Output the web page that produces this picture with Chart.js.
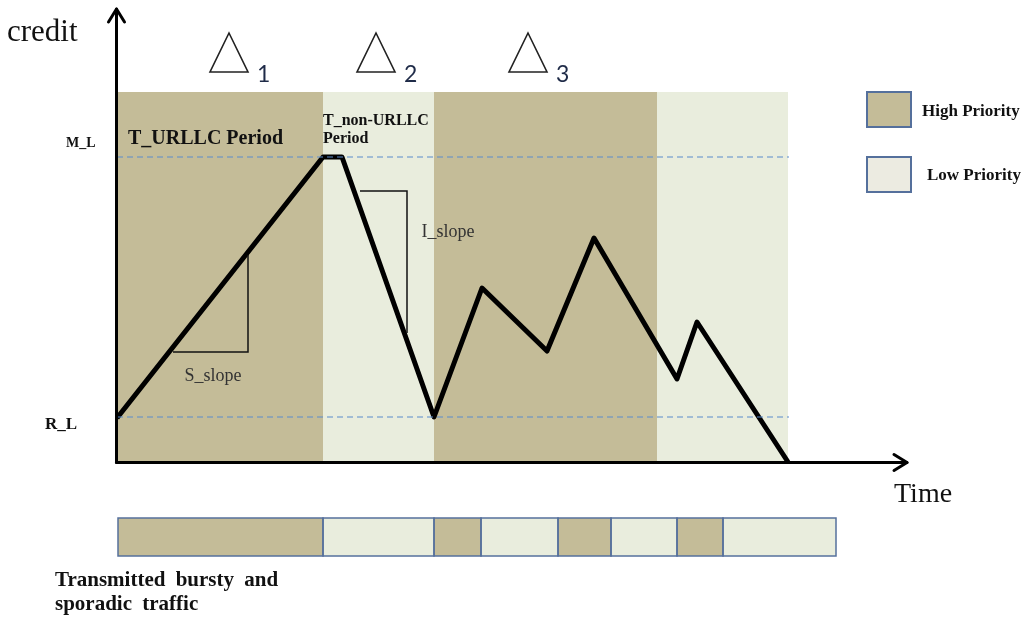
<!DOCTYPE html>
<html>
<head>
<meta charset="utf-8">
<script src="https://cdn.jsdelivr.net/npm/chart.js@4/dist/chart.umd.min.js"></script>
<style>
  html, body { margin: 0; padding: 0; background: #ffffff; }
  canvas { display: block; }
</style>
</head>
<body>
<canvas id="c" width="1028" height="621"></canvas>
<script>
// ---------------- DATA ----------------
const creditTime  = [0, 206, 225, 317, 365, 430, 477, 560, 580, 671];
const creditValue = [44, 305, 305, 45, 174, 111, 224, 83, 140, 0];
const M_L = 305;
const R_L = 45;
const refLineEnd = 672;
const bandEdges = [0, 206, 317, 540, 671];
const bandPriority = ['High', 'Low', 'High', 'Low'];
const bandTop = 370;
const trafficEdges = [1, 206, 317, 364, 441, 494, 560, 606, 719];
const trafficPriority = ['High', 'Low', 'High', 'Low', 'High', 'Low', 'High', 'Low'];
const sSlopeX = [56, 131, 131];
const sSlopeY = [110, 110, 207];
const iSlopeX = [243, 290, 290];
const iSlopeY = [271, 271, 129];
const deltaLabels = ['1', '2', '3'];
const deltaCenters = [229, 376, 528];
const legendLabels = ['High Priority', 'Low Priority'];

// ---------------- STYLE ----------------
const COLORS = { High: '#c4bc98', Low: '#e9eddd' };
const LEGEND_FILL = { High: '#c4bc98', Low: '#ecebe1' };
const BORDER_BLUE = '#55709c';
const DASH_BLUE = '#5a8ccc';

const pts = (xs, ys) => xs.map((x, i) => ({ x: x, y: ys[i] }));

const bgPlugin = {
  id: 'bg',
  beforeDatasetsDraw(chart) {
    const { ctx, scales: { x, y } } = chart;
    ctx.save();
    for (let i = 0; i < bandPriority.length; i++) {
      const x0 = x.getPixelForValue(bandEdges[i]);
      const x1 = x.getPixelForValue(bandEdges[i + 1]);
      const yt = y.getPixelForValue(bandTop);
      const yb = y.getPixelForValue(0);
      ctx.fillStyle = COLORS[bandPriority[i]];
      ctx.fillRect(x0, yt, x1 - x0, yb - yt);
    }
    ctx.restore();
  },
  afterDatasetsDraw(chart) {
    const { ctx, scales: { x, y } } = chart;
    const ox = x.getPixelForValue(0) - 0.5;
    const oy = y.getPixelForValue(0) + 0.5;
    ctx.save();
    ctx.strokeStyle = '#000';
    ctx.lineWidth = 3;
    ctx.lineCap = 'round';
    ctx.lineJoin = 'round';
    // y axis
    ctx.beginPath();
    ctx.moveTo(ox, oy);
    ctx.lineTo(ox, 9);
    ctx.stroke();
    ctx.beginPath();
    ctx.moveTo(ox - 8, 22);
    ctx.lineTo(ox, 9);
    ctx.lineTo(ox + 8, 22);
    ctx.stroke();
    // x axis
    ctx.beginPath();
    ctx.moveTo(ox, oy);
    ctx.lineTo(907, oy);
    ctx.stroke();
    ctx.beginPath();
    ctx.moveTo(894, oy - 8);
    ctx.lineTo(907, oy);
    ctx.lineTo(894, oy + 8);
    ctx.stroke();

    // delta triangles
    ctx.lineWidth = 1.6;
    ctx.lineCap = 'butt';
    ctx.lineJoin = 'miter';
    ctx.strokeStyle = '#222';
    deltaCenters.forEach((cx, i) => {
      ctx.beginPath();
      ctx.moveTo(cx, 33);
      ctx.lineTo(cx + 19, 72);
      ctx.lineTo(cx - 19, 72);
      ctx.closePath();
      ctx.stroke();
      ctx.fillStyle = '#1f2b48';
      ctx.font = '23px Lato';
      ctx.textAlign = 'left';
      ctx.textBaseline = 'alphabetic';
      ctx.fillText(deltaLabels[i], cx + 28, 82);
    });

    // traffic strip
    const sy0 = 518, sy1 = 556;
    for (let i = 0; i < trafficPriority.length; i++) {
      const x0 = x.getPixelForValue(trafficEdges[i]);
      const x1 = x.getPixelForValue(trafficEdges[i + 1]);
      ctx.fillStyle = COLORS[trafficPriority[i]];
      ctx.fillRect(x0, sy0, x1 - x0, sy1 - sy0);
    }
    ctx.strokeStyle = BORDER_BLUE;
    ctx.lineWidth = 1.5;
    for (let i = 0; i < trafficPriority.length; i++) {
      const x0 = x.getPixelForValue(trafficEdges[i]);
      const x1 = x.getPixelForValue(trafficEdges[i + 1]);
      ctx.strokeRect(x0, sy0, x1 - x0, sy1 - sy0);
    }

    // legend
    const legY = [92, 157];
    legendLabels.forEach((lab, i) => {
      const key = i === 0 ? 'High' : 'Low';
      ctx.fillStyle = LEGEND_FILL[key];
      ctx.fillRect(867, legY[i], 44, 35);
      ctx.strokeStyle = BORDER_BLUE;
      ctx.lineWidth = 2;
      ctx.strokeRect(867, legY[i], 44, 35);
      ctx.fillStyle = '#111';
      ctx.font = 'bold 17px "Liberation Serif"';
      ctx.textAlign = 'left';
      ctx.fillText(lab, i === 0 ? 922 : 927, i === 0 ? 116 : 180);
    });

    // texts
    ctx.fillStyle = '#111';
    ctx.textAlign = 'left';
    ctx.font = '31px "Liberation Serif"';
    ctx.fillText('credit', 7, 41);
    ctx.font = '28px "Liberation Serif"';
    ctx.fillText('Time', 894, 502);

    ctx.font = 'bold 14px "Liberation Serif"';
    ctx.fillText('M_L', 66, 147);
    ctx.font = 'bold 17px "Liberation Serif"';
    ctx.fillText('R_L', 45, 429);

    ctx.font = 'bold 20px "Liberation Serif"';
    ctx.fillText('T_URLLC Period', 128, 144);
    ctx.font = 'bold 16px "Liberation Serif"';
    ctx.fillText('T_non-URLLC', 323, 125);
    ctx.fillText('Period', 323, 143);

    ctx.fillStyle = '#333';
    ctx.font = '18px "Liberation Serif"';
    ctx.textAlign = 'center';
    ctx.fillText('S_slope', 213, 381);
    ctx.fillText('I_slope', 448, 237);

    ctx.fillStyle = '#111';
    ctx.textAlign = 'left';
    ctx.font = 'bold 21px "Liberation Serif"';
    ctx.wordSpacing = '5px';
    ctx.fillText('Transmitted bursty and', 55, 586);
    ctx.fillText('sporadic traffic', 55, 610);
    ctx.restore();
  }
};

new Chart(document.getElementById('c'), {
  type: 'scatter',
  data: {
    datasets: [
      {
        label: 'M_L',
        data: pts([0, refLineEnd], [M_L, M_L]),
        showLine: true, borderColor: DASH_BLUE, borderWidth: 1.2,
        borderDash: [6, 4], pointRadius: 0
      },
      {
        label: 'R_L',
        data: pts([0, refLineEnd], [R_L, R_L]),
        showLine: true, borderColor: DASH_BLUE, borderWidth: 1.2,
        borderDash: [6, 4], pointRadius: 0
      },
      {
        label: 'S_slope',
        data: pts(sSlopeX, sSlopeY),
        showLine: true, borderColor: '#111', borderWidth: 1.5, pointRadius: 0,
        borderJoinStyle: 'miter'
      },
      {
        label: 'I_slope',
        data: pts(iSlopeX, iSlopeY),
        showLine: true, borderColor: '#111', borderWidth: 1.5, pointRadius: 0,
        borderJoinStyle: 'miter'
      },
      {
        label: 'credit',
        data: pts(creditTime, creditValue),
        showLine: true, borderColor: '#000', borderWidth: 5, pointRadius: 0,
        borderJoinStyle: 'round', borderCapStyle: 'butt', tension: 0, clip: false
      }
    ]
  },
  options: {
    responsive: false,
    devicePixelRatio: 1,
    animation: false,
    layout: { padding: { left: 117, right: 120, top: 8, bottom: 159 } },
    plugins: { legend: { display: false }, tooltip: { enabled: false } },
    scales: {
      x: { type: 'linear', min: 0, max: 791, display: false },
      y: { type: 'linear', min: 0, max: 454, display: false }
    }
  },
  plugins: [bgPlugin]
});
</script>
</body>
</html>
